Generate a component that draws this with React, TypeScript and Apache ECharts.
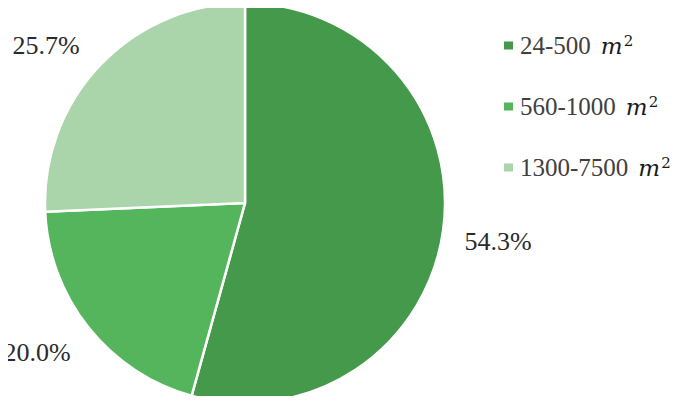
import React, { useEffect, useRef } from "react";
import * as echarts from "echarts";

const categories = ["24-500", "560-1000", "1300-7500"];
const values = [54.3, 20.0, 25.7];
const colors = ["#45994b", "#54b55d", "#aad4a9"];
const labelPos = [
  [498, 241],
  [37, 352],
  [46, 45],
];

const SERIF = "'Liberation Serif', serif";
const MATH = "'DejaVu Serif', serif";

export default function App() {
  const ref = useRef<HTMLDivElement>(null);
  useEffect(() => {
    const chart = echarts.init(ref.current!, null, { renderer: "svg" });
    chart.setOption({
      animation: false,
      legend: {
        orient: "vertical",
        left: 497,
        top: 28,
        itemWidth: 11,
        itemHeight: 10,
        itemGap: 36,
        icon: "rect",
        data: categories,
        formatter: (name: string) => `{n|${name}}{m|m}{s|2}`,
        textStyle: {
          rich: {
            n: { fontFamily: SERIF, fontSize: 25, color: "#404040", padding: [0, 0, 0, 1] },
            m: { fontFamily: MATH, fontStyle: "italic", fontSize: 23, color: "#1a1a1a", padding: [0, 0, 0, 10] },
            s: { fontFamily: MATH, fontSize: 15, color: "#1a1a1a", verticalAlign: "top", padding: [0, 0, 10, 1] },
          },
        },
      },
      series: [
        {
          type: "pie",
          center: [245, 203],
          radius: 200,
          startAngle: 90,
          clockwise: true,
          itemStyle: { borderColor: "#ffffff", borderWidth: 2.5 },
          label: {
            show: true,
            position: "outside",
            alignTo: "none",
            overflow: "none",
            formatter: (p: any) => `${p.value.toFixed(1)}%`,
            fontFamily: SERIF,
            fontSize: 26,
            color: "#2b2b2b",
          },
          labelLine: { show: false },
          labelLayout: (p: any) => ({
            x: labelPos[p.dataIndex][0],
            y: labelPos[p.dataIndex][1],
            align: "center",
            verticalAlign: "middle",
          }),
          data: categories.map((c, i) => ({
            name: c,
            value: values[i],
            itemStyle: { color: colors[i] },
          })),
        },
      ],
    });
    return () => chart.dispose();
  }, []);
  return <div ref={ref} style={{ width: 685, height: 404, margin: -8 }} />;
}
